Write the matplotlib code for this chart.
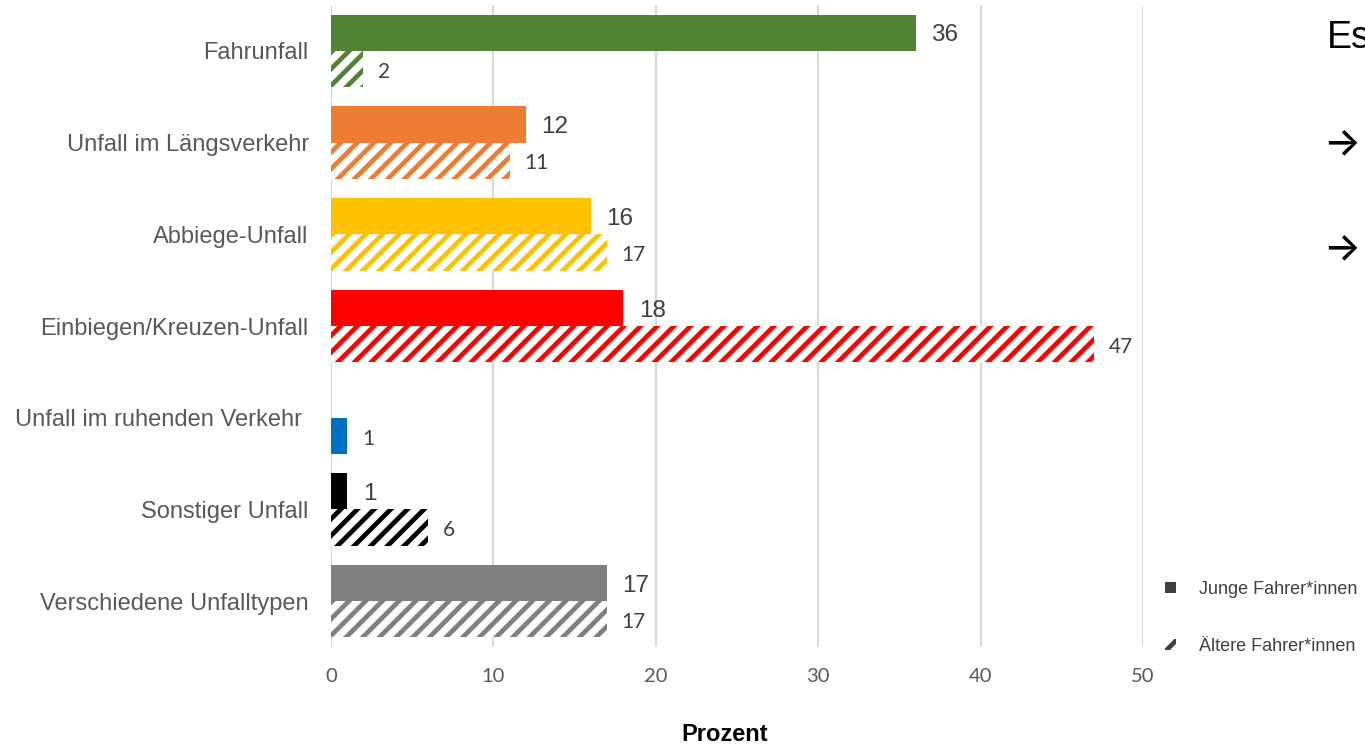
import numpy as np
import matplotlib
matplotlib.use("Agg")
import matplotlib.pyplot as plt
from matplotlib.patches import Patch

# Unfalltypen und Anteile (Prozent)
categories = [
    "Fahrunfall",
    "Unfall im Längsverkehr",
    "Abbiege-Unfall",
    "Einbiegen/Kreuzen-Unfall",
    "Unfall im ruhenden Verkehr ",
    "Sonstiger Unfall",
    "Verschiedene Unfalltypen",
]
junge = [36, 12, 16, 18, None, 1, 17]
aeltere = [2, 11, 17, 47, 1, 6, 17]
colors = ["#548235", "#ED7D31", "#FFC000", "#FF0000", "#0070C0", "#000000", "#7F7F7F"]
# Ruhender Verkehr: nur ein (voll gefüllter) Balken
hatched = [True, True, True, True, False, True, True]
x_ticks = [0, 10, 20, 30, 40, 50]
legend_labels = ["Junge Fahrer*innen", "Ältere Fahrer*innen"]

SANS = ["Liberation Sans", "DejaVu Sans"]
NUM = ["Lato", "DejaVu Sans"]
plt.rcParams["hatch.linewidth"] = 3.4

fig = plt.figure(figsize=(13.65, 7.45), dpi=100)
ax = fig.add_axes([0.2425, 0.1315, 0.5949, 0.8618])

y = np.arange(len(categories))
h = 0.395

for i, (j, a, c, hat) in enumerate(zip(junge, aeltere, colors, hatched)):
    if j is not None:
        ax.barh(y[i] - h / 2, j, height=h, color=c, linewidth=0)
        ax.text(j + 0.95, y[i] - h / 2 + 0.03, f"{j}", va="center", ha="left",
                fontsize=17.5, color="#404040", family=SANS)
    if a is not None:
        if hat:
            ax.barh(y[i] + h / 2, a, height=h, facecolor="white", edgecolor=c,
                    hatch="//", linewidth=0)
        else:
            ax.barh(y[i] + h / 2, a, height=h, color=c, linewidth=0)
        ax.text(a + 0.9, y[i] + h / 2 + 0.03, f"{a}", va="center", ha="left",
                fontsize=15, color="#404040", family=NUM)

ax.set_xlim(0, 50)
ax.set_ylim(len(categories) - 0.5, -0.5)
ax.set_xticks(x_ticks)
ax.set_xticklabels([str(t) for t in x_ticks], family=NUM, fontsize=14.5, color="#595959")
ax.set_yticks(y)
ax.set_yticklabels(categories, family=SANS, fontsize=17, color="#595959")
ax.tick_params(axis="both", length=0)
ax.tick_params(axis="x", pad=15)
ax.tick_params(axis="y", pad=16)
ax.grid(axis="x", color="#D9D9D9", linewidth=1.5)
ax.set_axisbelow(True)
for s in ax.spines.values():
    s.set_visible(False)

ax.set_xlabel("Prozent", family=SANS, fontsize=17, fontweight="bold", color="black")
ax.xaxis.set_label_coords(0.485, -0.137)
ax.xaxis.label.set_va("center")

handles = [
    Patch(facecolor="#404040", edgecolor="#404040", linewidth=0),
    Patch(facecolor="white", edgecolor="#404040", hatch="//", linewidth=0),
]
fig.legend(handles, legend_labels, loc="upper left", bbox_to_anchor=(0.8415, 0.242),
           frameon=False, prop={"family": SANS, "size": 13}, labelcolor="#404040",
           handlelength=0.6, handleheight=0.6, handletextpad=1.3, labelspacing=2.2)

# Angeschnittener Text rechts
fig.text(1327 / 1365, 1 - 38 / 745, "Es", fontsize=27, family=SANS, color="black",
         va="center", ha="left")
for yy in (144, 249):
    fig.text(1323 / 1365, 1 - yy / 745, "\u2192", fontsize=28, fontweight="medium",
             family=["Inter", "DejaVu Sans"],
             color="black", va="center", ha="left")

fig.savefig("out.png", dpi=100)
